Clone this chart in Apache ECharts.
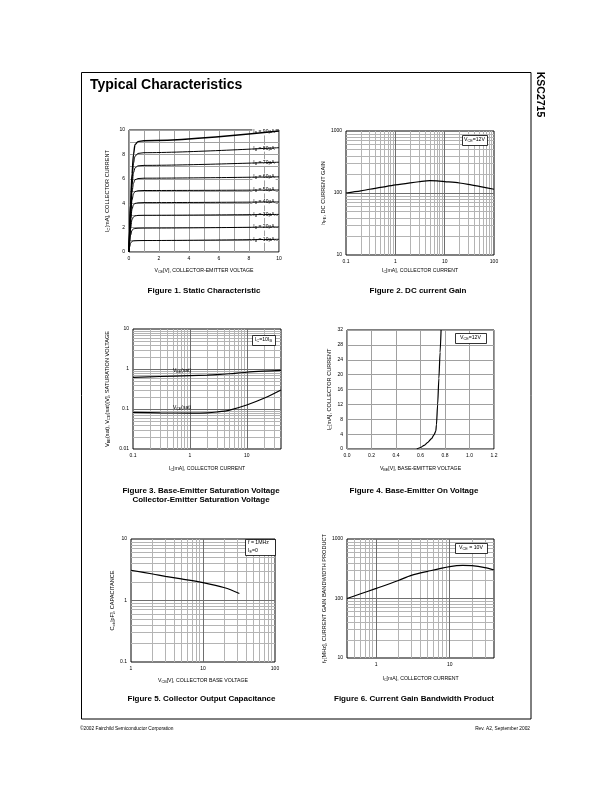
<!DOCTYPE html>
<html><head><meta charset="utf-8">
<script src="https://cdn.jsdelivr.net/npm/echarts@6/dist/echarts.min.js"></script>
<style>html,body{margin:0;padding:0;background:#fff}#c{width:612px;height:792px}</style>
</head><body><div id="c"></div>
<script>
// ================= DATA =================
// Figure 1: Static characteristic (IC vs VCE for several IB)
const vce1 = [0, 0.05, 0.1, 0.2, 0.3, 0.4, 0.6, 1, 10];
const ic_ib10 = [0, 0.45, 0.72, 0.87, 0.91, 0.92, 0.93, 0.94, 1.04];
const ic_ib20 = [0, 0.8, 1.35, 1.78, 1.89, 1.93, 1.95, 1.96, 2.05];
const ic_ib30 = [0, 1.1, 1.9, 2.65, 2.88, 2.96, 3.0, 3.01, 3.08];
const ic_ib40 = [0, 1.3, 2.4, 3.5, 3.88, 3.98, 4.03, 4.05, 4.1];
const ic_ib50 = [0, 1.5, 2.8, 4.25, 4.78, 4.95, 5.02, 5.04, 5.08];
const ic_ib60 = [0, 1.7, 3.1, 4.9, 5.65, 5.92, 6.02, 6.05, 6.16];
const ic_ib70 = [0, 1.85, 3.4, 5.5, 6.5, 6.9, 7.06, 7.1, 7.36];
const ic_ib80 = [0, 2.0, 3.7, 6.0, 7.3, 7.85, 8.08, 8.14, 8.55];
const ic_ib90 = [0, 2.1, 3.9, 6.4, 8.0, 8.8, 9.05, 9.12, 9.92];
const ibNames = ['10', '20', '30', '40', '50', '60', '70', '80', '90'];
const xTicks1 = [0, 2, 4, 6, 8, 10];
const yTicks1 = [0, 2, 4, 6, 8, 10];

// Figure 2: DC current gain
const ic2 = [0.1, 0.2, 0.3, 0.5, 1, 2, 3, 5, 7, 10, 20, 30, 50, 100];
const hfe2 = [100, 108, 115, 123, 135, 146, 152, 158, 157, 153, 145, 138, 128, 115];
const xTicks2 = [0.1, 1, 10, 100];
const yTicks2 = [10, 100, 1000];

// Figure 3: Saturation voltages
const ic3 = [0.1, 0.3, 1, 2, 3, 5, 10, 20, 40];
const vbesat3 = [0.62, 0.65, 0.68, 0.70, 0.72, 0.76, 0.83, 0.88, 0.92];
const vcesat3 = [0.082, 0.080, 0.079, 0.080, 0.084, 0.094, 0.126, 0.185, 0.30];
const xTicks3 = [0.1, 1, 10];
const yTicks3 = [0.01, 0.1, 1, 10];

// Figure 4: Base-emitter on voltage
const vbe4 = [0.57, 0.60, 0.63, 0.66, 0.69, 0.71, 0.725, 0.73, 0.74, 0.75, 0.76, 0.768];
const ic4 = [0, 0.4, 1.0, 1.8, 2.8, 3.8, 4.8, 6.5, 12, 19, 26, 32];
const xTicks4 = [0, 0.2, 0.4, 0.6, 0.8, 1.0, 1.2];
const yTicks4 = [0, 4, 8, 12, 16, 20, 24, 28, 32];

// Figure 5: Collector output capacitance
const vcb5 = [1, 2, 3, 5, 10, 20, 32];
const cob5 = [3.1, 2.7, 2.47, 2.24, 1.95, 1.61, 1.30];
const xTicks5 = [1, 10, 100];
const yTicks5 = [0.1, 1, 10];

// Figure 6: Current gain bandwidth product
const ic6 = [0.4, 0.6, 1, 2, 3, 5, 10, 15, 20, 30, 40];
const ft6 = [100, 119, 148, 201, 245, 286, 343, 360, 356, 330, 301];
const xTicks6 = [1, 10];
const yTicks6 = [10, 100, 1000];

// ================= HELPERS =================
const FONT = '"Liberation Sans", Arial, Helvetica, sans-serif';
const L = Math.log10;
const MINOR = '#b4b4b4', MAJOR = '#6e6e6e', LIN = '#a0a0a0';
const TICK_FS = 5, XNAME_FS = 5.2, YNAME_FS = 5.6;

function rich(fs) {
  return {
    s: { fontSize: fs * 0.72, fontFamily: FONT, color: '#000', padding: [fs * 0.55, 0, 0, 0] },
    n: { fontSize: fs, fontFamily: FONT, color: '#000' }
  };
}
function nameStyle(fs) {
  return { fontSize: fs, fontFamily: FONT, color: '#000', rich: rich(fs) };
}
function nearestLabel(ticks, v) {
  let best = ticks[0];
  ticks.forEach(t => { if (Math.abs(L(t) - v) < Math.abs(L(best) - v)) best = t; });
  return String(best);
}
function labelStyle(extra) {
  return Object.assign({ fontSize: TICK_FS, fontFamily: FONT, color: '#000', margin: 4 }, extra);
}
function logAxis(gi, lo, hi, ticks, name, gap, isY) {
  return {
    type: 'value', gridIndex: gi, min: L(lo), max: L(hi),
    splitLine: { show: false }, axisTick: { show: false }, axisLine: { show: false },
    axisLabel: labelStyle({ customValues: ticks.map(L), formatter: v => nearestLabel(ticks, v) }),
    name: name, nameLocation: 'middle', nameGap: gap,
    nameTextStyle: nameStyle(isY ? YNAME_FS : XNAME_FS)
  };
}
function linAxis(gi, lo, hi, step, ticks, fmt, name, gap, isY) {
  return {
    type: 'value', gridIndex: gi, min: lo, max: hi, interval: step,
    splitLine: { show: true, lineStyle: { color: LIN, width: 1 } },
    axisTick: { show: false }, axisLine: { show: false },
    axisLabel: labelStyle({ customValues: ticks, formatter: fmt }),
    name: name, nameLocation: 'middle', nameGap: gap,
    nameTextStyle: nameStyle(isY ? YNAME_FS : XNAME_FS)
  };
}
function logLines(lo, hi) {
  const major = [], minor = [];
  for (let d = Math.floor(L(lo)) - 1; d <= Math.ceil(L(hi)); d++) {
    for (let k = 1; k <= 9; k++) {
      const v = k * Math.pow(10, d);
      if (v <= lo * 1.0001 || v >= hi * 0.9999) continue;
      (k === 1 ? major : minor).push(L(v));
    }
  }
  return { major, minor };
}
function gridSeries(gi, xlo, xhi, ylo, yhi) {
  const xs = logLines(xlo, xhi), ys = logLines(ylo, yhi);
  const mk = (arr, axis, color) => arr.map(v => ({ [axis]: v, lineStyle: { color: color } }));
  return {
    type: 'line', xAxisIndex: gi, yAxisIndex: gi, silent: true, z: 1,
    data: [[L(xlo), L(ylo)]], showSymbol: false, lineStyle: { width: 0 },
    markLine: {
      silent: true, symbol: ['none', 'none'], label: { show: false }, animation: false,
      lineStyle: { type: 'solid', width: 1 },
      data: [].concat(mk(xs.minor, 'xAxis', MINOR), mk(ys.minor, 'yAxis', MINOR),
        mk(xs.major, 'xAxis', MAJOR), mk(ys.major, 'yAxis', MAJOR))
    }
  };
}
function curve(gi, xs, ys, logX, logY, extra) {
  return Object.assign({
    type: 'line', xAxisIndex: gi, yAxisIndex: gi, z: 5,
    data: xs.map((x, i) => [logX ? L(x) : x, logY ? L(ys[i]) : ys[i]]),
    showSymbol: false, smooth: 0.3,
    lineStyle: { color: '#000', width: 1.2 }, silent: true
  }, extra || {});
}
function interpLog(xs, ys, x) {
  for (let i = 0; i < xs.length - 1; i++) {
    if (x >= xs[i] && x <= xs[i + 1]) {
      const t = (L(x) - L(xs[i])) / (L(xs[i + 1]) - L(xs[i]));
      return Math.pow(10, L(ys[i]) + t * (L(ys[i + 1]) - L(ys[i])));
    }
  }
  return ys[ys.length - 1];
}
function interpLin(xs, ys, x) {
  for (let i = 0; i < xs.length - 1; i++) {
    if (x >= xs[i] && x <= xs[i + 1]) {
      const t = (x - xs[i]) / (xs[i + 1] - xs[i]);
      return ys[i] + t * (ys[i + 1] - ys[i]);
    }
  }
  return ys[ys.length - 1];
}
function pointLabel(coord, text, position, distance, bg) {
  return {
    symbol: 'rect', symbolSize: 0, silent: true, animation: false,
    data: [{ coord: coord }],
    label: {
      show: true, position: position, distance: distance, formatter: text,
      fontSize: 5, fontFamily: FONT, color: '#000',
      backgroundColor: bg ? '#fff' : 'transparent', padding: bg ? [0, 1, 0, 1] : 0,
      rich: rich(5)
    }
  };
}

// ================= BUILD =================
const grids = [
  { left: 129, top: 130, width: 150, height: 122 },
  { left: 346, top: 131, width: 148, height: 124 },
  { left: 133, top: 329, width: 148, height: 120 },
  { left: 347, top: 330, width: 147, height: 119 },
  { left: 131, top: 539, width: 144, height: 123 },
  { left: 347, top: 539, width: 147, height: 119 }
].map(g => Object.assign({ show: true, borderColor: '#000', borderWidth: 1, backgroundColor: 'transparent' }, g));

const xAxes = [
  linAxis(0, 0, 10, 1, xTicks1, v => String(v), 'V{s|CE}[V], COLLECTOR-EMITTER VOLTAGE', 15, false),
  logAxis(1, 0.1, 100, xTicks2, 'I{s|C}[mA], COLLECTOR CURRENT', 12.5, false),
  logAxis(2, 0.1, 40, xTicks3, 'I{s|C}[mA], COLLECTOR CURRENT', 16.5, false),
  linAxis(3, 0, 1.2, 0.2, xTicks4, v => v.toFixed(1), 'V{s|BE}[V], BASE-EMITTER VOLTAGE', 16.5, false),
  logAxis(4, 1, 100, xTicks5, 'V{s|CB}[V], COLLECTOR BASE VOLTAGE', 15.5, false),
  logAxis(5, 0.4, 40, xTicks6, 'I{s|C}[mA], COLLECTOR CURRENT', 17.5, false)
];
const yAxes = [
  linAxis(0, 0, 10, 1, yTicks1, v => String(v), 'I{s|C}[mA], COLLECTOR CURRENT', 18, true),
  logAxis(1, 10, 1000, yTicks2, 'h{s|FE}, DC CURRENT GAIN', 16, true),
  logAxis(2, 0.01, 10, yTicks3, 'V{s|BE}(sat), V{s|CE}(sat)[V], SATURATION VOLTAGE', 22, true),
  linAxis(3, 0, 32, 4, yTicks4, v => String(v), 'I{s|C}[mA], COLLECTOR CURRENT', 14, true),
  logAxis(4, 0.1, 10, yTicks5, 'C{s|ob}[pF], CAPACITANCE', 12, true),
  logAxis(5, 10, 1000, yTicks6, 'f{s|T}[MHz], CURRENT GAIN BANDWIDTH PRODUCT', 16, true)
];

const series = [];
// Fig 1
const fig1Curves = [ic_ib10, ic_ib20, ic_ib30, ic_ib40, ic_ib50, ic_ib60, ic_ib70, ic_ib80, ic_ib90];
fig1Curves.forEach((ys, i) => {
  const y9 = interpLin(vce1, ys, 9);
  series.push(curve(0, vce1, ys, false, false, {
    smooth: 0.3, smoothMonotone: 'x',
    lineStyle: { color: '#000', width: i === 8 ? 1.4 : 1 },
    markPoint: pointLabel([9, y9], 'I{s|B} = ' + ibNames[i] + 'µA', 'inside', 0, true)
  }));
});
// Fig 2
series.push(gridSeries(1, 0.1, 100, 10, 1000));
series.push(curve(1, ic2, hfe2, true, true));
// Fig 3
series.push(gridSeries(2, 0.1, 40, 0.01, 10));
series.push(curve(2, ic3, vbesat3, true, true, {
  markPoint: pointLabel([L(0.73), L(interpLog(ic3, vbesat3, 0.73))], 'V{s|BE}(sat)', 'top', 2, false)
}));
series.push(curve(2, ic3, vcesat3, true, true, {
  markPoint: pointLabel([L(0.73), L(interpLog(ic3, vcesat3, 0.73))], 'V{s|CE}(sat)', 'top', 2, false)
}));
// Fig 4
series.push(curve(3, vbe4, ic4, false, false, { smooth: 0.25, smoothMonotone: 'x' }));
// Fig 5
series.push(gridSeries(4, 1, 100, 0.1, 10));
series.push(curve(4, vcb5, cob5, true, true));
// Fig 6
series.push(gridSeries(5, 0.4, 40, 10, 1000));
series.push(curve(5, ic6, ft6, true, true));

// ---------- page graphics ----------
function txt(x, y, text, font, align, vAlign, extra) {
  return {
    type: 'text', x: x, y: y, silent: true, z: 50,
    style: Object.assign({
      text: text, font: font, fill: '#000',
      align: align || 'left', verticalAlign: vAlign || 'middle',
      textAlign: align || 'left', textVerticalAlign: vAlign || 'middle',
      rich: rich(5.2)
    }, extra || {})
  };
}
function box(x, y, w, h) {
  return { type: 'rect', silent: true, z: 40, shape: { x: x + 0.5, y: y + 0.5, width: w, height: h },
    style: { fill: '#fff', stroke: '#000', lineWidth: 0.8 } };
}
const F5 = '5.2px ' + FONT;
const CAP = 'bold 8px ' + FONT;
const graphic = [
  { type: 'rect', silent: true, z: 30, shape: { x: 81.5, y: 72.5, width: 449.5, height: 646.5 },
    style: { fill: 'none', stroke: '#000', lineWidth: 1 } },
  txt(90, 85, 'Typical Characteristics', 'bold 14px ' + FONT),
  Object.assign(txt(540, 94.5, 'KSC2715', 'bold 10.5px ' + FONT, 'center', 'middle'), { rotation: -Math.PI / 2 }),
  txt(204, 291, 'Figure 1. Static Characteristic', CAP, 'center'),
  txt(418, 291, 'Figure 2. DC current Gain', CAP, 'center'),
  txt(201, 491, 'Figure 3. Base-Emitter Saturation Voltage', CAP, 'center'),
  txt(201, 500, 'Collector-Emitter Saturation Voltage', CAP, 'center'),
  txt(414, 491, 'Figure 4. Base-Emitter On Voltage', CAP, 'center'),
  txt(201.5, 699, 'Figure 5. Collector Output Capacitance', CAP, 'center'),
  txt(414, 699, 'Figure 6. Current Gain Bandwidth Product', CAP, 'center'),
  txt(80, 729, '©2002 Fairchild Semiconductor Corporation', '4.8px ' + FONT),
  txt(530, 729, 'Rev. A2, September 2002', '4.8px ' + FONT, 'right'),
  // legend boxes
  box(462, 135, 25, 10), txt(474.5, 140, 'V{s|CE}=12V', F5, 'center'),
  box(252, 335, 23, 10), txt(263.5, 340, 'I{s|C}=10I{s|B}', F5, 'center'),
  box(455, 333, 31, 10), txt(470.5, 338, 'V{s|CE}=12V', F5, 'center'),
  box(245, 539, 30, 16), txt(248, 543, 'f = 1MHz', F5, 'left'), txt(248, 550.5, 'I{s|E}=0', F5, 'left'),
  box(455, 543, 32, 10), txt(471, 548, 'V{s|CE} = 10V', F5, 'center')
];

const chart = echarts.init(document.getElementById('c'), null, { renderer: 'canvas', width: 612, height: 792 });
chart.setOption({
  animation: false,
  backgroundColor: '#fff',
  textStyle: { fontFamily: FONT },
  grid: grids, xAxis: xAxes, yAxis: yAxes, series: series, graphic: graphic
});
</script></body></html>
